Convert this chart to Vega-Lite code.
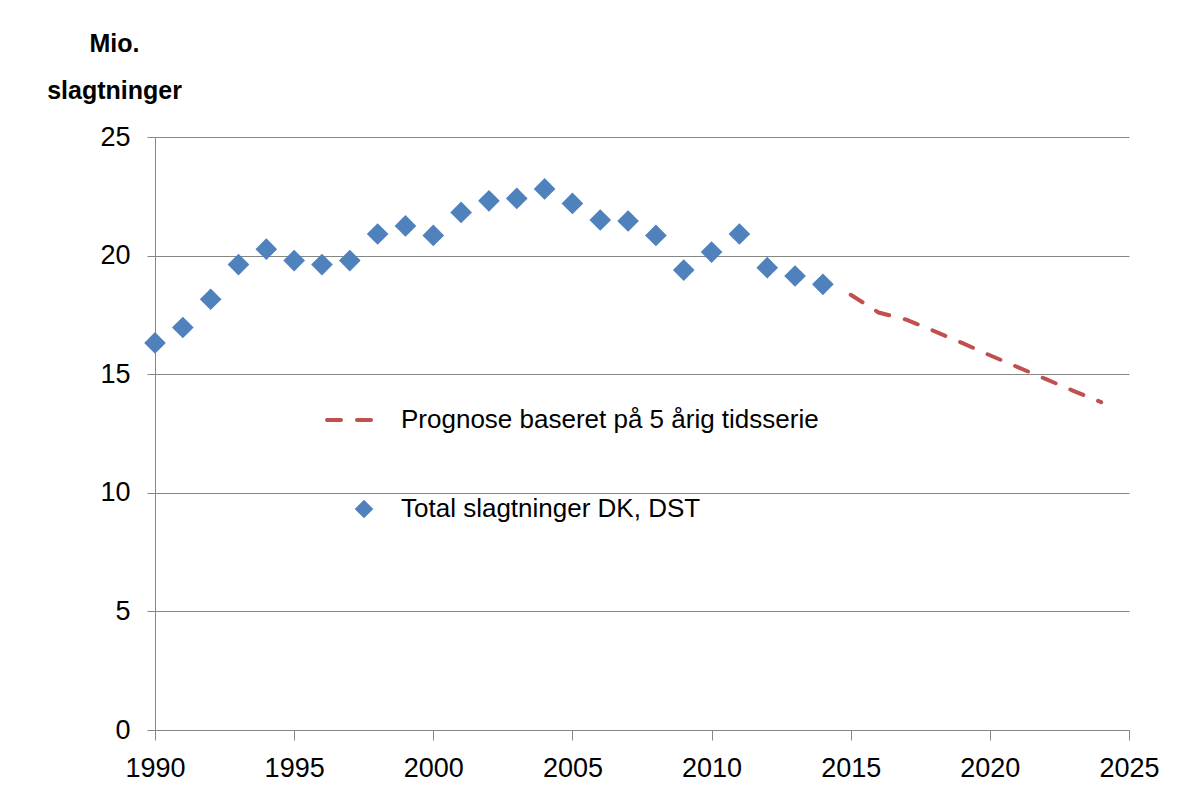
{
  "$schema": "https://vega.github.io/schema/vega-lite/v6.json",
  "width": 974,
  "height": 593,
  "autosize": {"type": "none"},
  "padding": {"left": 155, "top": 137, "right": 63, "bottom": 81},
  "background": "white",
  "config": {
    "font": "Liberation Sans",
    "view": {"stroke": null},
    "axis": {"labelFont": "Liberation Sans", "labelFontSize": 27, "labelColor": "#000000", "domainColor": "#868686", "tickColor": "#868686", "gridColor": "#868686", "domainWidth": 1, "tickWidth": 1, "gridWidth": 1}
  },
  "datasets": {
    "obs": [
      {"year": 1990, "value": 16.32, "series": "Total slagtninger DK, DST"},
      {"year": 1991, "value": 16.97, "series": "Total slagtninger DK, DST"},
      {"year": 1992, "value": 18.16, "series": "Total slagtninger DK, DST"},
      {"year": 1993, "value": 19.62, "series": "Total slagtninger DK, DST"},
      {"year": 1994, "value": 20.27, "series": "Total slagtninger DK, DST"},
      {"year": 1995, "value": 19.79, "series": "Total slagtninger DK, DST"},
      {"year": 1996, "value": 19.62, "series": "Total slagtninger DK, DST"},
      {"year": 1997, "value": 19.79, "series": "Total slagtninger DK, DST"},
      {"year": 1998, "value": 20.91, "series": "Total slagtninger DK, DST"},
      {"year": 1999, "value": 21.25, "series": "Total slagtninger DK, DST"},
      {"year": 2000, "value": 20.85, "series": "Total slagtninger DK, DST"},
      {"year": 2001, "value": 21.82, "series": "Total slagtninger DK, DST"},
      {"year": 2002, "value": 22.31, "series": "Total slagtninger DK, DST"},
      {"year": 2003, "value": 22.41, "series": "Total slagtninger DK, DST"},
      {"year": 2004, "value": 22.81, "series": "Total slagtninger DK, DST"},
      {"year": 2005, "value": 22.2, "series": "Total slagtninger DK, DST"},
      {"year": 2006, "value": 21.5, "series": "Total slagtninger DK, DST"},
      {"year": 2007, "value": 21.46, "series": "Total slagtninger DK, DST"},
      {"year": 2008, "value": 20.85, "series": "Total slagtninger DK, DST"},
      {"year": 2009, "value": 19.39, "series": "Total slagtninger DK, DST"},
      {"year": 2010, "value": 20.15, "series": "Total slagtninger DK, DST"},
      {"year": 2011, "value": 20.91, "series": "Total slagtninger DK, DST"},
      {"year": 2012, "value": 19.49, "series": "Total slagtninger DK, DST"},
      {"year": 2013, "value": 19.14, "series": "Total slagtninger DK, DST"},
      {"year": 2014, "value": 18.79, "series": "Total slagtninger DK, DST"}
    ],
    "fc": [
      {"year": 2015, "value": 18.35, "series": "Prognose baseret på 5 årig tidsserie"},
      {"year": 2016, "value": 17.6, "series": "Prognose baseret på 5 årig tidsserie"},
      {"year": 2017, "value": 17.3, "series": "Prognose baseret på 5 årig tidsserie"},
      {"year": 2018, "value": 16.82, "series": "Prognose baseret på 5 årig tidsserie"},
      {"year": 2019, "value": 16.32, "series": "Prognose baseret på 5 årig tidsserie"},
      {"year": 2020, "value": 15.8, "series": "Prognose baseret på 5 årig tidsserie"},
      {"year": 2021, "value": 15.3, "series": "Prognose baseret på 5 årig tidsserie"},
      {"year": 2022, "value": 14.8, "series": "Prognose baseret på 5 årig tidsserie"},
      {"year": 2023, "value": 14.3, "series": "Prognose baseret på 5 årig tidsserie"},
      {"year": 2024, "value": 13.82, "series": "Prognose baseret på 5 årig tidsserie"}
    ]
  },
  "encoding": {
    "x": {
      "field": "year", "type": "quantitative",
      "scale": {"domain": [1990, 2025], "nice": false, "zero": false},
      "axis": {"title": null, "values": [1990, 1995, 2000, 2005, 2010, 2015, 2020, 2025], "format": "d", "grid": false, "tickSize": 10, "labelPadding": 15, "labelFlush": false}
    },
    "y": {
      "field": "value", "type": "quantitative",
      "scale": {"domain": [0, 25], "nice": false},
      "axis": {
        "title": ["Mio.", "slagtninger"],
        "titleAngle": 0, "titleAlign": "center", "titleBaseline": "middle",
        "titleX": -41, "titleY": -94, "titleLineHeight": 47,
        "titleFont": "Liberation Sans", "titleFontSize": 25, "titleFontWeight": "bold", "titleColor": "#000000",
        "values": [0, 5, 10, 15, 20, 25], "grid": true, "tickSize": 8, "labelPadding": 17
      }
    }
  },
  "layer": [
    {
      "data": {"name": "fc"},
      "mark": {"type": "line", "color": "#C0504D", "strokeWidth": 4, "strokeCap": "round"},
      "encoding": {
        "strokeDash": {
          "field": "series", "type": "nominal",
          "scale": {"domain": ["Prognose baseret på 5 årig tidsserie"], "range": [[14, 16]]},
          "legend": {
            "orient": "none", "legendX": 170, "legendY": 251, "title": null,
            "symbolType": "stroke", "symbolSize": 3600, "symbolStrokeWidth": 4,
            "symbolStrokeColor": "#C0504D", "labelFont": "Liberation Sans", "labelFontSize": 26, "labelColor": "#000000", "labelOffset": 12, "labelLimit": 700,
            "encode": {"symbols": {"update": {"strokeDash": {"value": [17, 18, 22, 100]}, "strokeCap": {"value": "round"}}}}
          }
        }
      }
    },
    {
      "data": {"name": "obs"},
      "mark": {"type": "point", "filled": true, "color": "#4F81BD", "opacity": 1, "size": 470},
      "encoding": {
        "shape": {
          "field": "series", "type": "nominal",
          "scale": {"domain": ["Total slagtninger DK, DST"], "range": ["diamond"]},
          "legend": {
            "orient": "none", "legendX": 196, "legendY": 359, "title": null,
            "symbolSize": 346, "symbolFillColor": "#4F81BD", "symbolStrokeWidth": 0, "symbolOpacity": 1,
            "labelFont": "Liberation Sans", "labelFontSize": 26, "labelColor": "#000000", "labelOffset": 24, "labelLimit": 700
          }
        }
      }
    }
  ]
}
